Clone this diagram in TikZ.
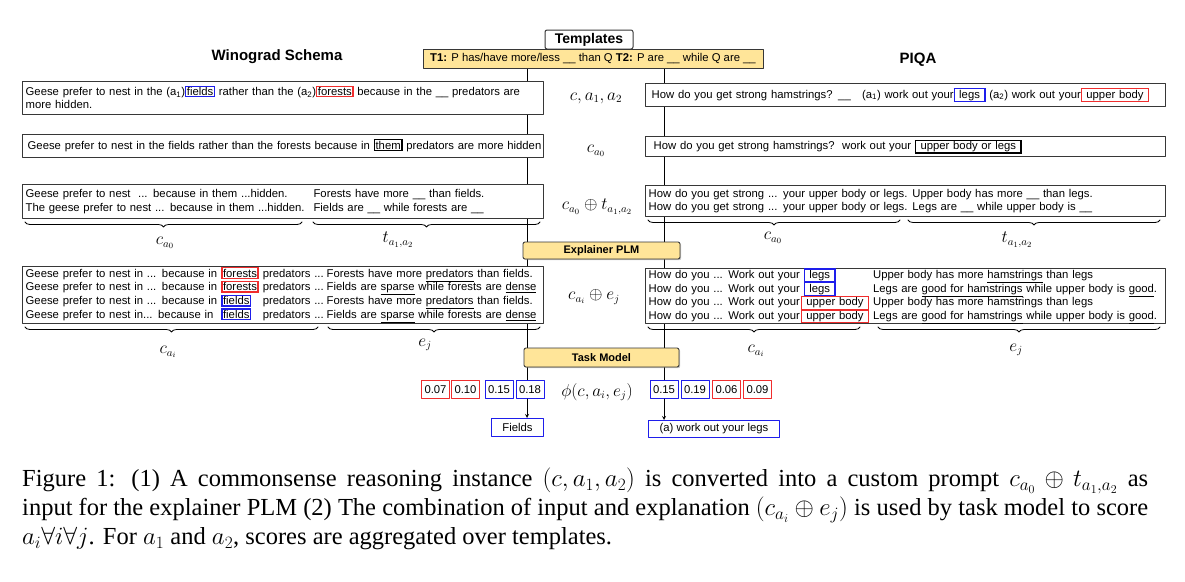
\documentclass[tikz,border=0pt]{standalone}
\usepackage{fontspec}
\setmainfont{Liberation Serif}
\setsansfont{Liberation Sans}
\usetikzlibrary{decorations.pathreplacing,shadows,backgrounds}
\definecolor{tplyellow}{RGB}{255,229,153}
\definecolor{hlblue}{RGB}{30,30,235}
\definecolor{hlred}{RGB}{240,45,45}
\definecolor{edgegray}{RGB}{55,55,55}
\newcommand{\markbox}[2]{\smash{\setlength{\fboxsep}{0.5pt}\setlength{\fboxrule}{1.3pt}\fcolorbox{#1}{white}{#2}}}
\newcommand{\blank}{\_\_}

\begin{document}
\begin{tikzpicture}[x=1pt, y=-1pt, line join=round, line cap=round, >=stealth,
		font=\sffamily\fontsize{11.3}{13.5}\selectfont,
		panel/.style={draw=edgegray, line width=1.4pt, fill=white, anchor=north west, inner xsep=3pt, inner ysep=0pt, align=left},
		wpanel/.style={panel, text width=515pt},
		ppanel/.style={panel, text width=514pt},
		plm/.style={draw=edgegray, line width=0.9pt, fill=tplyellow, rounded corners=2pt, inner sep=0pt,
			font=\sffamily\bfseries\fontsize{11}{13}\selectfont, drop shadow={shadow xshift=1.2pt, shadow yshift=-1.2pt, opacity=0.45}},
		score/.style={draw=#1, line width=1pt, fill=white, minimum width=28pt, minimum height=18pt, inner sep=0pt},
		pick/.style={draw=hlblue, line width=1pt, fill=white, inner sep=0pt, minimum height=18pt},
		mathlbl/.style={font=\fontsize{16}{19}\selectfont},
		brace/.style={decorate, decoration={brace, mirror, amplitude=5pt}, line width=0.8pt}]
	\useasboundingbox (0,0) rectangle (1185,581);
	
	\coordinate (lineL) at (527,0);
	\coordinate (lineR) at (664,0);
	
	% headings and templates
	\node[font=\sffamily\bfseries\fontsize{15}{18}\selectfont] (wsTitle) at (277,57) {Winograd Schema};
	\node[font=\sffamily\bfseries\fontsize{15}{18}\selectfont] (pqTitle) at (918,60) {PIQA};
	\node[draw=edgegray, line width=1pt, fill=white, rounded corners=2pt, minimum width=88pt, minimum height=19pt, inner sep=0pt,
		font=\sffamily\bfseries\fontsize{14}{16}\selectfont] (tplHead) at (589,39.5) {Templates};
	\node[draw=edgegray, line width=1pt, fill=tplyellow, minimum width=340pt, minimum height=19pt, inner sep=0pt] (tpl) at (593,58.5)
		{\textbf{T1:} P has/have more/less \blank\ than Q \textbf{T2:} P are \blank\ while Q are \blank};
	
	% row 1: question
	\node[wpanel, minimum height=33pt] (wsQ) at (22,81)
		{Geese prefer to nest in the (a\textsubscript{1})\markbox{hlblue}{fields} rather than the (a\textsubscript{2})\markbox{hlred}{forests} because in the \blank\ predators are\\more hidden.};
	\node[ppanel, minimum height=23pt] (pqQ) at (645,83)
		{\hspace*{3pt}How do you get strong hamstrings? \blank\quad(a\textsubscript{1}) work out your\markbox{hlblue}{\ legs\ } (a\textsubscript{2}) work out your\markbox{hlred}{\ upper body\ }};
	\node[mathlbl] (lbQ) at (596,98) {$c, a_1, a_2$};
	
	% row 2: masked context
	\node[wpanel, minimum height=23pt] (wsM) at (22,134)
		{\hspace*{2pt}\mbox{Geese prefer to nest in the fields rather than the forests because in \markbox{black}{them} predators are more hidden}};
	\node[ppanel, minimum height=20pt] (pqM) at (645,136)
		{\hspace*{5pt}How do you get strong hamstrings?\ \ work out your \markbox{black}{\ upper body or legs\ }};
	\node[mathlbl] (lbM) at (596,151) {$c_{a_0}$};
	
	% row 3: prompt for the explainer
	\node[wpanel, minimum height=34pt] (wsP) at (22,184)
		{\begin{tabular}{@{}l@{\hspace{9pt}}l@{}}
			Geese prefer to nest\ \ ... because in them ...hidden. & Forests have more \blank\ than fields.\\
			The geese prefer to nest ... because in them ...hidden. & Fields are \blank\ while forests are \blank
		\end{tabular}};
	\node[ppanel, minimum height=31pt] (pqP) at (645,185)
		{\begin{tabular}{@{}l@{\hspace{5pt}}l@{}}
			How do you get strong ... your upper body or legs. & Upper body has more \blank\ than legs.\\
			How do you get strong ... your upper body or legs. & Legs are \blank\ while upper body is \blank
		\end{tabular}};
	\node[mathlbl] (lbP) at (597,207) {$c_{a_0}\oplus t_{a_1,a_2}$};
	
	\draw[brace] (25,222) -- (302,222);
	\draw[brace] (313,222) -- (540,222);
	\draw[brace] (648,220) -- (900,220);
	\draw[brace] (908,220) -- (1160,220);
	\node[mathlbl] (bCa) at (165,243) {$c_{a_0}$};
	\node[mathlbl] (bTa) at (398,240) {$t_{a_1,a_2}$};
	\node[mathlbl] (bCb) at (773,238) {$c_{a_0}$};
	\node[mathlbl] (bTb) at (1017,240) {$t_{a_1,a_2}$};
	
	\node[plm, minimum width=157pt, minimum height=17pt] (explainer) at (601.5,250.5) {Explainer PLM};
	
	% row 4: context with explanations
	\node[wpanel, minimum height=57pt] (wsE) at (22,266)
		{\begin{tabular}{@{}l@{\hspace{4pt}}l@{\hspace{4pt}}l@{\hspace{3pt}}l@{}}
			Geese prefer to nest in ... because in & \markbox{hlred}{forests} & predators ... & Forests have more \underline{predators} than fields.\\
			Geese prefer to nest in ... because in & \markbox{hlred}{forests} & predators ... & Fields are \underline{sparse} while forests are \underline{dense}\\
			Geese prefer to nest in ... because in & \markbox{hlblue}{fields} & predators ... & Forests have more \underline{predators} than fields.\\
			Geese prefer to nest in... because in & \markbox{hlblue}{fields} & predators ... & Fields are \underline{sparse} while forests are \underline{dense}
		\end{tabular}};
	\node[ppanel, minimum height=55pt] (pqE) at (645,268)
		{\begin{tabular}{@{}l@{\hspace{1pt}}l@{\hspace{4pt}}l@{}}
			How do you ... Work out your & \hspace{3pt}\markbox{hlblue}{\ legs\ } & Upper body has more \underline{hamstrings} than legs\\
			How do you ... Work out your & \hspace{3pt}\markbox{hlblue}{\ legs\ } & Legs are \underline{good for hamstrings} while upper body is \underline{good}.\\
			How do you ... Work out your & \markbox{hlred}{\ upper body\ } & Upper body has more hamstrings than legs\\
			How do you ... Work out your & \markbox{hlred}{\ upper body\ } & Legs are \underline{good for hamstrings} while upper body is \underline{good}.
		\end{tabular}};
	\node[mathlbl] (lbE) at (594,297) {$c_{a_i}\oplus e_j$};
	
	\draw[brace] (25,327) -- (318,327);
	\draw[brace] (328,327) -- (540,327);
	\draw[brace] (648,327) -- (860,327);
	\draw[brace] (878,327) -- (1160,327);
	\node[mathlbl] (bCc) at (168,352) {$c_{a_i}$};
	\node[mathlbl] (bEc) at (425,345) {$e_j$};
	\node[mathlbl] (bCd) at (756,351) {$c_{a_i}$};
	\node[mathlbl] (bEd) at (1016,350) {$e_j$};
	
	\node[plm, minimum width=155pt, minimum height=19pt] (task) at (601.5,357.5) {Task Model};
	
	% scores
	\foreach \n/\x/\c/\v in {sL1/435.5/hlred/0.07, sL2/465.5/hlred/0.10, sL3/499/hlblue/0.15, sL4/530/hlblue/0.18,
		sR1/664/hlblue/0.15, sR2/695/hlblue/0.19, sR3/726.5/hlred/0.06, sR4/757.5/hlred/0.09} {
		\node[score=\c] (\n) at (\x,389.5) {\v};
	}
	\node[mathlbl] (lbS) at (597,392) {$\phi(c, a_i, e_j)$};
	
	\node[pick, minimum width=52pt] (fields) at (517.5,427.5) {Fields};
	\node[pick, minimum width=131pt, minimum height=17pt] (answer) at (714,429) {(a) work out your legs};
	
	\begin{scope}[on background layer]
		\draw[line width=0.9pt] (tpl.south -| lineL) -- (sL4.north -| lineL);
		\draw[line width=0.9pt] (tpl.south -| lineR) -- (sR1.north -| lineR);
	\end{scope}
	\draw[->, line width=0.8pt] (sL4.south -| lineL) -- (fields.north -| lineL);
	\draw[->, line width=0.8pt] (sR1.south -| lineR) -- (answer.north -| lineR);
	
	% caption
	\node[anchor=north west, inner sep=0pt, text width=1126pt, align=justify, font=\rmfamily\fontsize{24.5}{29}\selectfont] (caption) at (22,468)
		{Figure 1: (1) A commonsense reasoning instance $(c, a_1, a_2)$ is converted into a custom prompt $c_{a_0}\oplus t_{a_1,a_2}$ as\linebreak
		input for the explainer PLM (2) The combination of input and explanation $(c_{a_i}\oplus e_j)$ is used by task model to score\linebreak
		$a_i\forall i\forall j$. For $a_1$ and $a_2$, scores are aggregated over templates.};
\end{tikzpicture}
\end{document}
